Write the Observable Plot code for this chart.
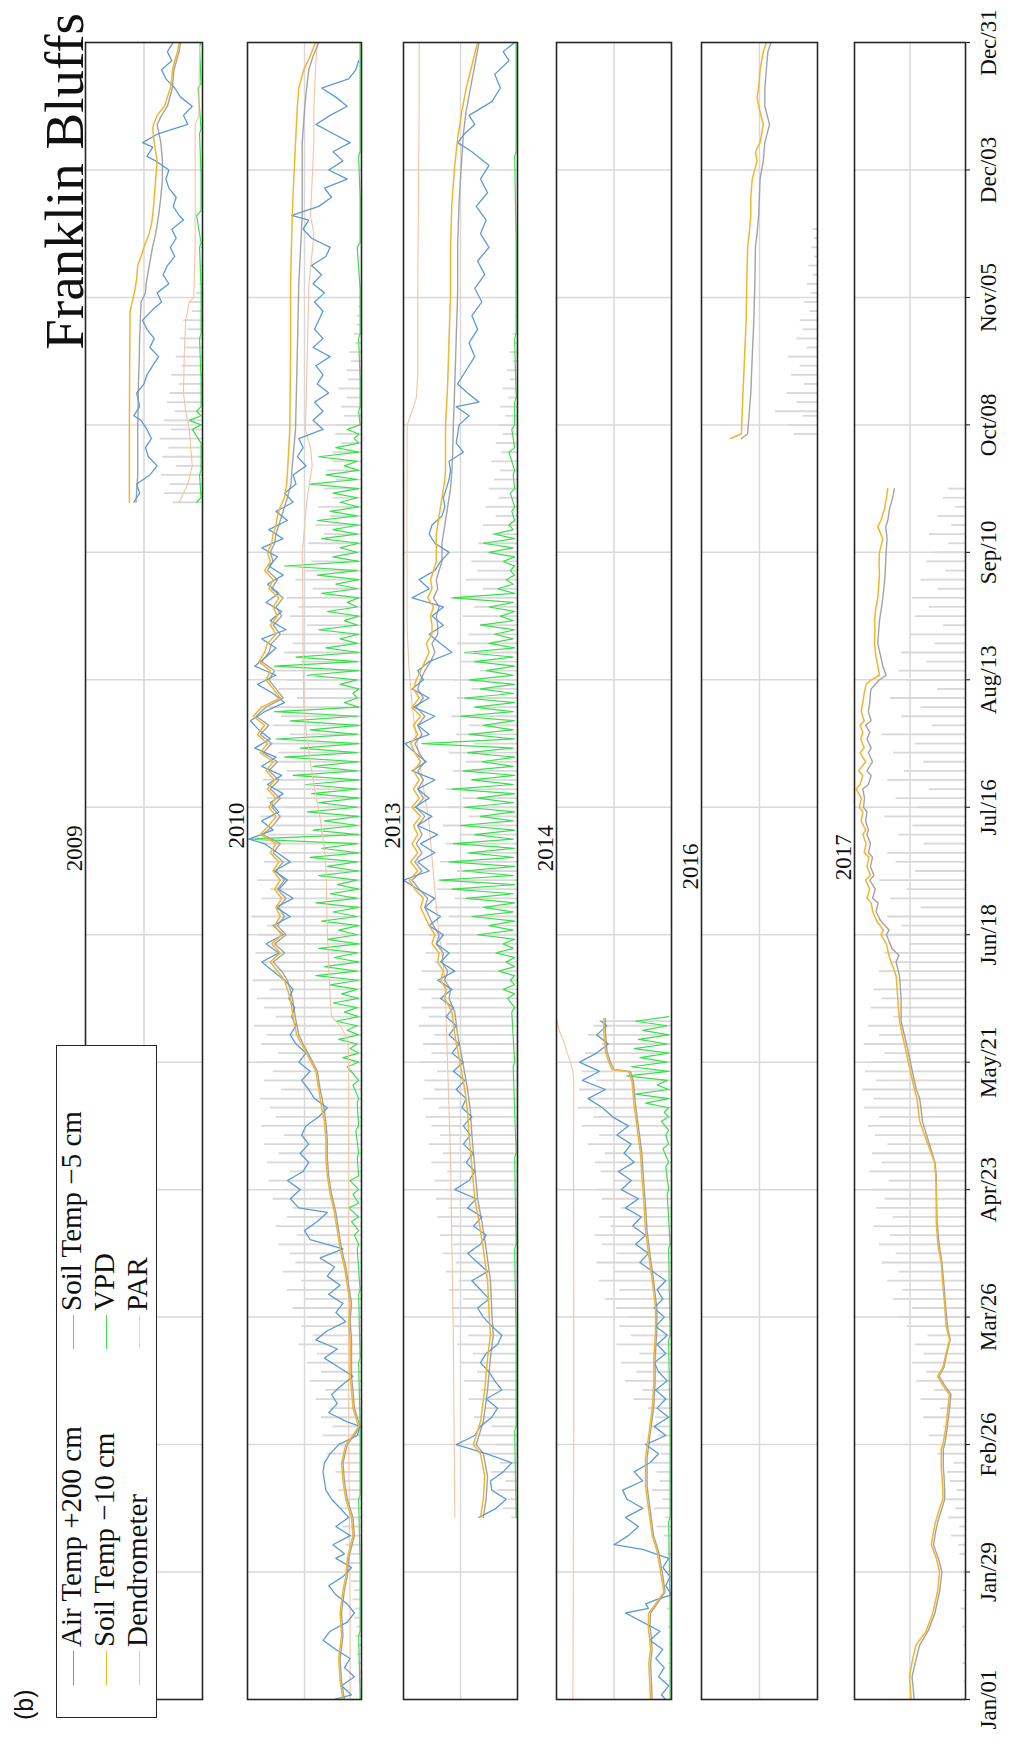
<!DOCTYPE html>
<html><head><meta charset="utf-8">
<script src="https://cdn.jsdelivr.net/npm/d3@7"></script>
<script src="https://cdn.jsdelivr.net/npm/@observablehq/plot@0.6"></script>
<style>
html,body{margin:0;padding:0;background:#fff;overflow:hidden;width:1012px;height:1744px}
#fig{position:absolute;left:0;top:0;width:1744px;height:1012px;transform-origin:0 0;transform:translate(0px,1744px) rotate(-90deg);font-family:"Liberation Serif",serif;color:#111}
#fig svg{position:absolute;left:0}
.lg{position:absolute;font-size:29px;line-height:29px;white-space:nowrap}
.mk{position:absolute;height:0;border-top:1.5px solid}
</style></head><body><div id="fig"></div>
<script>
// ---------- axis ticks ----------
const tickDays = [1,29,57,85,113,141,169,197,225,253,281,309,337,365];
const tickLabels = ["Jan/01","Jan/29","Feb/26","Mar/26","Apr/23","May/21","Jun/18","Jul/16","Aug/13","Sep/10","Oct/08","Nov/05","Dec/03","Dec/31"];
const years = ["2009","2010","2013","2014","2016","2017"];
const seriesNames = ["Air Temp +200 cm","Soil Temp \u221210 cm","Dendrometer","Soil Temp \u22125 cm","VPD","PAR"];

// ---------- 2009 ----------
const air2009 = [[264,7],[266,3],[268,5],[270,-4],[272,-9],[274,-3],[276,-1],[278,-5],[280,-2],[282,2],[283,7],[285,3],[288,5],[290,0],[292,-2],[294,-6],[296,-10],[298,-4],[300,-7],[302,-2],[304,1],[306,-5],[308,-12],[310,-9],[312,-17],[314,-13],[316,-16],[318,-21],[320,-18],[322,-22],[324,-19],[326,-27],[327,-24],[329,-20],[331,-22],[333,-17],[335,-15],[337,-17],[339,-8],[340,-2],[342,-6],[343,1],[345,-10],[347,-30],[349,-27],[351,-33],[353,-25],[355,-21],[357,-15],[359,-12],[361,-19],[363,-16],[365,-20]];
const s10_2009 = [[264,10],[280,10],[295,9.8],[306,9.5],[310,6.6],[313,5],[316,4.3],[318,2],[320,0],[323,-3.5],[325,-5],[327,-6],[331,-7],[335,-8],[339,-9],[341,-8],[343,-7],[346,-6],[347,-6.5],[349,-9],[351,-14],[353,-16],[355,-18],[357,-19],[359,-19.5],[361,-21],[363,-23],[365,-24]];
const s5_2009 = [[264,5.5],[270,4.3],[280,4.3],[290,3.8],[296,3.2],[300,3],[304,2.5],[308,2],[310,-1],[312,-1.5],[316,-3.6],[320,-5.8],[323,-8],[327,-10],[331,-11.5],[335,-12.6],[339,-12.6],[343,-11.5],[347,-9],[349,-12],[351,-16],[355,-19.4],[359,-20.5],[363,-24],[365,-25]];
const den2009 = [[264,-24],[266,-27],[268,-30],[272,-33],[276,-32],[280,-31],[284,-28.5],[288,-27],[296,-27.5],[304,-28.5],[308,-31],[309,-34],[320,-35],[335,-35],[347,-35],[349,-37.5],[365,-38]];
const vpd2009 = [[264,-36,-39],[270,-38,-39],[276,-39,-39],[280,-33,-39],[282,-31,-39],[284,-36,-39],[290,-39,-39],[300,-38,-39],[310,-39,-39],[320,-38,-39],[327,-36,-39],[335,-39,-39],[345,-38,-39],[355,-37,-39],[364,-38,-39]];
const par2009 = [[264,-20],[266,-14],[268,-18],[270,-12],[272,-22],[274,-13],[276,-17],[278,-11],[280,-19],[282,-14],[284,-21],[286,-16],[288,-18],[290,-24],[292,-19],[294,-26],[296,-22],[298,-28],[300,-25],[302,-30],[304,-27],[306,-33],[308,-31],[310,-36],[312,-38],[316,-39],[320,-38]];

// ---------- 2010 ----------
const air2010 = [[1,-21],[2,-33],[4,-26],[6,-35],[8,-28],[10,-32],[12,-22],[14,-13],[16,-18],[18,-30],[20,-35],[22,-30],[24,-22],[26,-17],[28,-27],[30,-33],[32,-22],[33,-28],[35,-20],[37,-32],[39,-22],[41,-31],[43,-25],[45,-19],[47,-15],[49,-14],[51,-13],[53,-14],[55,-18],[57,-24],[59,-37],[61,-39],[62,-30],[64,-17],[66,-23],[68,-19],[70,-26],[72,-34],[74,-24],[76,-14],[78,-23],[80,-8],[82,-16],[84,-29],[86,-22],[88,-27],[90,-17],[92,-25],[94,-16],[96,-21],[98,-11],[100,-27],[102,-4],[104,0],[106,-9],[108,-16],[109,4],[111,10],[113,3],[115,12],[117,1],[119,-3],[121,3],[123,-3],[125,2],[127,-1],[129,-10],[131,-16],[133,-7],[135,-3],[137,2],[139,-4],[141,4],[143,-1],[145,6],[147,10],[149,6],[151,9],[153,7],[155,11],[157,8],[159,14],[161,22],[163,30],[165,18],[167,27],[169,15],[171,22],[173,10],[175,20],[177,8],[179,18],[181,12],[183,21],[185,10],[187,19],[189,28],[190,39],[192,22],[194,30],[196,18],[198,24],[200,15],[202,26],[204,16],[206,30],[208,20],[210,35],[212,24],[214,32],[216,38],[218,28],[220,14],[222,22],[224,33],[226,20],[228,35],[230,27],[232,20],[234,30],[236,13],[238,24],[240,16],[242,27],[244,18],[246,26],[248,15],[250,25],[252,19],[254,30],[256,15],[258,25],[260,12],[262,20],[264,8],[266,14],[268,6],[270,8],[272,-1],[274,5],[276,1],[278,4],[280,-13],[282,-6],[284,-13],[286,-7],[288,-17],[290,-9],[292,-13],[294,-8],[296,-18],[298,-6],[300,-13],[302,-7],[304,-10],[306,-13],[308,-7],[310,-14],[312,-6],[314,-12],[316,-5],[318,-15],[320,-18],[322,-5],[324,1],[326,-3],[327,9],[329,-10],[331,-19],[333,-14],[335,-30],[337,-17],[339,-27],[341,-20],[343,-32],[345,-20],[347,-8],[349,-18],[351,-30],[353,-22],[355,-12],[357,-31],[359,-36],[361,-38]];
const s10_2010 = [[1,-27],[5,-25],[10,-24],[15,-26],[20,-25],[25,-27],[28,-29],[32,-30],[37,-34],[41,-33],[45,-29],[49,-27],[53,-26],[57,-29],[59,-34],[61,-38],[63,-36],[65,-34],[69,-33],[72,-32],[76,-32],[80,-32],[84,-31],[88,-32],[92,-30],[96,-28],[100,-25],[104,-23],[108,-21],[112,-18],[116,-16],[120,-15],[124,-15],[128,-14],[131,-12],[135,-10],[139,-8],[142,-3],[145,2],[147,5.5],[151,8],[155,10],[157,12],[159,14],[161,19],[163,24],[165,17],[167,23],[169,16],[171,21],[173,17],[175,20],[177,16],[179,21],[181,17],[183,22],[185,18],[187,24],[189,20],[191,31],[193,25],[195,20],[197,25],[199,20],[201,26],[203,21],[205,27],[207,22],[209,31],[211,26],[213,33],[215,28],[217,36],[219,30],[221,17],[223,22],[225,27],[227,24],[229,32],[231,28],[233,26],[235,20],[237,24],[239,19],[241,22],[243,18],[245,25],[247,22],[249,28],[251,24],[253,26],[255,23],[257,22],[259,20],[261,19],[263,17],[265,14],[268,12.5],[272,11.7],[280,10.3],[296,9.8],[312,9.8],[327,8.6],[335,7.5],[343,6.3],[351,5],[355,4],[359,0.5],[362,-4],[365,-7.7]];
const s5_2010 = [[1,-28],[5,-26],[10,-25],[15,-27],[20,-26],[25,-28],[28,-30],[32,-31],[37,-35],[41,-34],[45,-30],[49,-28],[53,-27],[57,-30],[59,-35],[61,-39],[63,-37],[65,-35],[69,-34],[72,-33],[76,-33],[80,-33],[84,-32],[88,-33],[92,-31],[96,-29],[100,-26],[104,-24],[108,-22],[112,-19],[116,-17],[120,-16],[124,-16],[128,-15],[131,-13.6],[135,-11],[139,-9],[142,-4.2],[145,1],[147,4],[151,6.5],[155,8.5],[157,10],[159,12],[161,16],[163,22],[165,14],[167,21],[169,13],[171,19],[173,14],[175,18],[177,13],[179,19],[181,14],[183,20],[185,15],[187,22],[189,17],[191,29],[193,22],[195,17],[197,23],[199,17],[201,24],[203,18],[205,25],[207,19],[209,29],[211,23],[213,31],[215,25],[217,34],[219,27],[221,15],[223,20],[225,25],[227,21],[229,30],[231,25],[233,23],[235,17],[237,22],[239,16],[241,20],[243,15],[245,23],[247,19],[249,26],[251,22],[253,24],[255,21],[257,20],[259,18],[261,16],[263,14],[265,12],[268,9.5],[272,8.6],[280,6.3],[296,5.1],[312,4],[327,1.6],[343,1.6],[351,-0.2],[355,-1.5],[359,-3],[362,-6],[365,-10]];
const den2010 = [[1,-32],[20,-32],[40,-31.5],[60,-31],[80,-31],[100,-31],[120,-31],[140,-31],[146,-30.5],[149,-25],[151,-19],[155,-18],[162,-17],[170,-16],[178,-15.5],[186,-14.8],[190,-13],[194,-11.3],[198,-9],[202,-6.6],[206,-4.5],[210,-2.8],[214,-1],[218,0.4],[230,1],[245,1.2],[253,1.6],[257,0.4],[265,-1.9],[272,-5.4],[276,-4.2],[280,-0.7],[296,-1.9],[312,-3.1],[319,-5.4],[323,-6.6],[327,-4.2],[335,-5.4],[343,-6.6],[351,-6.6],[359,-7.7],[365,-8.9]];
const vpd2010 = [[1,-39,-39],[15,-38,-39],[30,-39,-39],[45,-38,-39],[60,-39,-39],[75,-38,-39],[90,-38,-39],[100,-37,-38],[103,-35,-38],[106,-33,-38],[109,-31,-38],[112,-34,-38],[115,-32,-38],[120,-37,-38],[126,-36,-38],[132,-37,-38],[136,-34,-38],[140,-30,-38],[142,-27,-38],[144,-32,-37],[146,-24,-38],[148,-30,-37],[150,-22,-38],[152,-28,-37],[154,-20,-38],[156,-26,-37],[158,-18,-38],[160,-8,-37],[162,-14,-38],[164,-21,-37],[166,-10,-38],[168,-16,-37],[170,-24,-38],[172,-12,-37],[174,-20,-38],[176,-8,-37],[178,-18,-38],[180,-23,-37],[182,-10,-38],[184,-16,-37],[186,-4,-38],[188,-12,-37],[190,39,-38],[192,-6,-37],[194,-14,-38],[196,-2,-37],[198,-10,-38],[200,-5,-37],[202,-1,-38],[204,8,-37],[206,-6,-38],[208,14,-37],[210,3,-38],[212,20,-37],[214,-4,-38],[216,10,-37],[218,21,-38],[220,-28,-37],[222,-34,-38],[224,-25,-37],[226,-2,-38],[228,21,-37],[230,6,-38],[232,-15,-37],[234,-25,-38],[236,-10,-37],[238,-28,-38],[240,-16,-37],[242,-30,-38],[244,-12,-37],[246,-22,-38],[248,-9,-37],[250,14,-38],[252,-20,-37],[254,-25,-38],[256,-12,-37],[258,-20,-38],[260,-9,-37],[262,-18,-38],[264,-25,-37],[266,-20,-38],[268,-4,-37],[270,-15,-38],[272,-28,-37],[274,-10,-38],[276,-22,-38],[278,-35,-38],[280,-30,-39],[284,-38,-39],[290,-39,-39],[300,-38,-39],[310,-39,-39],[320,-37,-39],[330,-39,-39],[340,-38,-39],[350,-39,-39],[364,-39,-39]];
const par2010 = [[1,-39],[3,-39],[5,-38],[7,-39],[9,-38],[11,-37],[13,-38],[15,-36],[17,-37],[19,-35],[21,-36],[23,-34],[25,-35],[27,-33],[29,-34],[31,-31],[33,-33],[35,-29],[37,-32],[39,-27],[41,-30],[43,-26],[45,-29],[47,-24],[49,-28],[51,-22],[53,-26],[55,-16],[57,-24],[59,-13],[61,-20],[63,-12],[65,-18],[67,-8],[69,-15],[71,-4],[73,-12],[75,-2],[77,-9],[79,4],[81,-6],[83,2],[85,-3],[87,8],[89,0],[91,12],[93,2],[95,15],[97,6],[99,10],[101,18],[103,5],[105,20],[107,12],[109,8],[111,22],[113,14],[115,25],[117,10],[119,26],[121,18],[123,28],[125,14],[127,30],[129,20],[131,24],[133,31],[135,16],[137,28],[139,22],[141,33],[143,18],[145,30],[147,26],[149,35],[151,20],[153,28],[155,33],[157,24],[159,36],[161,22],[163,30],[165,34],[167,20],[169,32],[171,26],[173,37],[175,18],[177,30],[179,24],[181,33],[183,22],[185,28],[187,16],[189,30],[191,25],[193,20],[195,31],[197,14],[199,26],[201,22],[203,29],[205,12],[207,24],[209,18],[211,27],[213,10],[215,22],[217,16],[219,25],[221,5],[223,18],[225,12],[227,20],[229,2],[231,14],[233,8],[235,16],[237,-2],[239,10],[241,4],[243,12],[245,-6],[247,6],[249,0],[251,-5],[253,-11],[255,-3],[257,-14],[259,-8],[261,-18],[263,-10],[265,-20],[267,-14],[269,-22],[271,-16],[273,-20],[275,-20],[277,-26],[279,-22],[281,-22],[283,-28],[285,-26],[287,-30],[289,-24],[291,-31],[293,-30],[295,-33],[297,-32],[299,-36],[301,-35],[303,-37],[305,-37],[307,-38],[309,-38],[311,-39]];

// ---------- 2013 ----------
const air2013 = [[41,-13],[43,-25],[45,-32],[47,-22],[49,-21],[51,-30],[53,-36],[55,-18],[57,3],[59,-10],[61,-14],[63,-22],[65,-26],[67,-18],[69,-29],[71,-24],[73,-20],[75,-14],[77,-18],[79,-26],[81,-29],[83,-22],[85,-16],[87,-12],[89,-20],[91,-14],[93,-8],[95,-19],[97,-12],[99,-5],[101,-14],[103,-18],[105,-9],[107,-15],[109,-5],[111,-11],[113,4],[115,-6],[117,-10],[119,-4],[121,-9],[123,-2],[125,-7],[127,-2],[129,-8],[131,-1],[133,-4],[135,3],[137,-3],[139,5],[141,-2],[143,6],[145,1],[147,8],[149,3],[151,10],[153,5],[155,14],[157,6],[159,16],[161,4],[163,14],[165,8],[167,17],[169,12],[171,22],[173,14],[175,25],[177,18],[179,30],[181,40],[183,22],[185,30],[187,18],[189,28],[191,16],[193,30],[195,20],[197,32],[199,22],[201,30],[203,18],[205,34],[207,24],[209,32],[211,39],[213,22],[215,30],[217,18],[219,33],[221,22],[223,34],[225,26],[227,30],[229,22],[231,6],[233,14],[235,22],[237,12],[239,20],[241,12],[243,34],[245,22],[247,29],[249,18],[251,14],[253,8],[255,18],[257,22],[259,20],[261,13],[263,11],[265,12],[267,10],[269,8],[271,7],[273,8],[275,-2],[277,3],[279,2],[281,1],[283,-6],[285,3],[286,-13],[288,-5],[290,2],[293,-4],[296,-10],[299,-6],[302,-12],[305,-8],[308,-15],[311,-10],[314,-17],[317,-12],[320,-20],[323,-14],[326,-18],[329,-11],[332,-19],[335,-14],[338,-20],[341,-8],[343,2],[345,-3],[347,-10],[349,-6],[352,-22],[355,-28],[358,-24],[361,-34],[363,-30],[365,-38]];
const s10_2013 = [[41,-14],[45,-16],[50,-17],[55,-14],[57,-9],[62,-14],[69,-17],[76,-19],[81,-21],[86,-20],[93,-19],[100,-16],[106,-13],[111,-10],[118,-8],[125,-6],[130,-5],[135,-3],[142,1],[147,4],[152,6],[155,11],[157,10],[159,14],[161,12],[163,16],[165,15],[167,20],[169,18],[171,22],[173,25],[175,28],[177,26],[179,32],[181,36],[183,30],[185,35],[187,30],[189,34],[191,30],[193,33],[195,28],[197,34],[199,29],[201,33],[203,29],[205,33],[207,28],[209,32],[211,35],[213,30],[215,33],[217,28],[219,34],[221,29],[223,33],[225,31],[227,28],[229,25],[231,22],[233,24],[235,20],[237,20],[239,21],[241,19],[243,23],[245,20],[247,21],[249,19],[251,17],[253,17],[255,17],[257,17],[259,16],[261,15],[263,14],[265,13],[267,12],[269,11],[271,10.5],[281,10.5],[290,9],[300,8],[310,7],[320,7],[330,6],[338,4],[344,2],[350,-1],[355,-4],[360,-8],[365,-12]];
const s5_2013 = [[41,-16],[45,-18],[50,-19],[55,-16],[57,-11],[62,-16],[69,-19],[76,-21],[81,-23],[86,-22],[93,-21],[100,-18],[106,-15],[111,-12],[118,-10],[125,-8],[130,-7],[135,-5],[142,-1],[147,2],[152,4],[155,8],[157,7],[159,11],[161,9],[163,13],[165,12],[167,17],[169,15],[171,19],[173,22],[175,25],[177,23],[179,29],[181,34],[183,27],[185,32],[187,27],[189,31],[191,27],[193,30],[195,25],[197,31],[199,26],[201,30],[203,26],[205,30],[207,25],[209,29],[211,32],[213,27],[215,30],[217,25],[219,31],[221,26],[223,30],[225,28],[227,25],[229,21],[231,18],[233,20],[235,16],[237,16],[239,17],[241,15],[243,19],[245,16],[247,17],[249,15],[251,13],[253,13],[255,13],[257,12],[259,11],[261,10],[263,9],[265,8],[267,7],[269,6.5],[271,6],[275,5.5],[281,5],[290,4],[300,3],[310,2],[320,2],[330,1],[340,-1],[345,-2],[350,-4],[355,-7],[360,-10],[365,-13]];
const den2013 = [[41,4],[60,4.5],[80,5],[100,6],[120,7],[140,9],[155,10.5],[161,11.7],[165,12.8],[169,15.2],[177,17.5],[186,20],[194,22.2],[203,26.9],[211,30.4],[219,33.9],[228,36.2],[236,37.4],[260,37.6],[281,37.4],[284,34],[287,31],[292,30],[310,30],[330,29.5],[350,29],[365,29]];
const vpd2013 = [[41,-39,-39],[60,-38,-39],[80,-39,-39],[100,-38,-39],[120,-38,-39],[140,-37,-38],[152,-36,-38],[155,-33,-38],[157,-30,-38],[159,-35,-38],[161,-27,-38],[163,-32,-38],[165,-25,-37],[167,-30,-38],[169,-12,-37],[171,-20,-38],[173,-8,-37],[175,-16,-38],[177,-4,-37],[179,6,-38],[181,15,-37],[183,-2,-38],[185,8,-37],[187,-6,-38],[189,5,-37],[191,-10,-38],[193,0,-37],[195,-14,-38],[197,-3,-37],[199,-12,-38],[201,6,-37],[203,-8,-38],[205,-2,-37],[207,-15,-38],[209,-5,-37],[211,27,-38],[213,-6,-37],[215,-16,-38],[217,0,-37],[219,-10,-38],[221,-3,-37],[223,-14,-38],[225,-6,-37],[227,-18,-38],[229,-10,-37],[231,-3,-38],[233,-20,-37],[235,-24,-38],[237,-14,-37],[239,-28,-38],[241,-20,-37],[243,6,-38],[245,-26,-37],[247,-32,-38],[249,-35,-38],[251,-30,-38],[253,-20,-37],[255,-16,-38],[257,-24,-37],[259,-34,-38],[262,-36,-38],[266,-35,-38],[270,-37,-38],[275,-34,-38],[280,-36,-38],[286,-38,-39],[300,-38,-39],[320,-39,-39],[340,-38,-39],[364,-39,-39]];
const par2013 = [[41,-36],[43,-30],[45,-34],[47,-26],[49,-32],[51,-22],[53,-28],[55,-18],[57,-25],[59,-14],[61,-22],[63,-10],[65,-18],[67,-6],[69,-15],[71,-3],[73,-12],[75,0],[77,-9],[79,2],[81,-6],[83,4],[85,-4],[87,6],[89,-2],[91,8],[93,1],[95,10],[97,3],[99,12],[101,5],[103,14],[105,6],[107,16],[109,8],[111,17],[113,10],[115,18],[117,9],[119,20],[121,12],[123,22],[125,14],[127,20],[129,24],[131,15],[133,26],[135,18],[137,25],[139,16],[141,28],[143,20],[145,26],[147,18],[149,29],[151,22],[153,27],[155,20],[157,29],[159,14],[161,27],[163,18],[165,24],[167,10],[169,22],[171,15],[173,8],[175,18],[177,4],[179,16],[181,12],[183,2],[185,14],[187,-4],[189,10],[191,0],[193,12],[195,-6],[197,8],[199,-2],[201,10],[203,-8],[205,5],[207,-4],[209,8],[211,-10],[213,3],[215,-6],[217,6],[219,-12],[221,2],[223,-8],[225,4],[227,-14],[229,0],[231,-10],[233,2],[235,-6],[237,-14],[239,-2],[241,-10],[243,0],[245,-16],[247,-4],[249,-12],[251,-8],[253,-18],[255,-13],[257,-22],[259,-16],[261,-25],[263,-18],[265,-27],[267,-20],[269,-24],[271,-28],[273,-22],[275,-29],[277,-25],[279,-30],[281,-27],[283,-32],[285,-28],[287,-34],[289,-30],[291,-35],[293,-33],[295,-37],[297,-35],[299,-38],[301,-37],[305,-39],[310,-39]];

// ---------- 2014 ----------
const air2014 = [[1,-36],[2,-33],[4,-38],[6,-31],[8,-35],[10,-29],[12,-34],[14,-25],[16,-32],[18,-20],[20,-8],[21,-24],[22,-22],[23,-30],[24,-40],[26,-36],[28,-39],[30,-34],[32,-38],[34,-20],[35,0],[37,-10],[39,-17],[41,-8],[43,-20],[45,-9],[47,-6],[49,-20],[51,-14],[53,-25],[55,-31],[57,-22],[59,-36],[61,-28],[63,-38],[65,-30],[67,-36],[69,-29],[71,-37],[73,-31],[75,-28],[77,-36],[79,-30],[81,-37],[83,-29],[85,-35],[87,-28],[89,-34],[91,-30],[93,-36],[95,-27],[97,-18],[99,-24],[101,-15],[103,-22],[105,-13],[107,-19],[109,-8],[111,-17],[113,-5],[115,-12],[117,-3],[119,-14],[121,-7],[123,-12],[125,-2],[127,-10],[129,1],[131,8],[133,18],[135,6],[137,22],[139,10],[141,24],[143,12],[145,4],[147,12],[149,5],[150,9]];
const s10_2014 = [[1,-25.4],[5,-24.8],[9,-24.2],[12,-25.5],[14.5,-24.7],[17,-23.8],[20,-24.2],[22,-28.9],[24.6,-34.7],[27,-33.5],[29,-32.4],[33.5,-30],[37,-26.6],[42.5,-24.2],[48,-21.9],[54,-21.9],[59,-24.2],[65,-26.6],[70.5,-27.7],[76,-27.7],[82,-28.9],[87,-28.9],[93,-26.6],[98.5,-24.2],[104,-21.9],[110,-20.8],[115,-19.6],[121,-18.4],[126.5,-16.1],[132,-13.8],[136.6,-12.6],[138.9,-10.3],[139.4,1.3],[141,3.6],[143.3,5.9],[147.8,7.1],[150.6,7.1]];
const s5_2014 = [[1,-26.5],[5,-26],[9,-25.5],[12,-26.5],[14.5,-26],[17,-25],[20,-25.5],[22,-30],[24.6,-35.5],[27,-34.5],[29,-33.5],[33.5,-31],[37,-27.5],[42.5,-25.2],[48,-23],[54,-23],[59,-25],[65,-27.6],[70.5,-28.6],[76,-28.6],[82,-29.8],[87,-29.8],[93,-27.5],[98.5,-25.2],[104,-23],[110,-21.8],[115,-20.6],[121,-19.4],[126.5,-17.1],[132,-14.8],[136.6,-13.6],[138.9,-11.5],[139.4,0],[141,2.5],[143.3,4.8],[147.8,6],[150.6,6]];
const den2014 = [[1,28.6],[30,28.3],[60,28],[90,28],[120,28.2],[136,28],[139,28.5],[141,30.3],[143,32.5],[145.6,35],[147.8,38],[150.6,40]];
const vpd2014 = [[1,-39,-39],[20,-39,-39],[40,-38,-39],[60,-39,-39],[80,-38,-39],[100,-38,-39],[112,-37,-38],[118,-36,-38],[122,-34,-38],[125,-36,-38],[128,-33,-38],[130,-35,-38],[132,-22,-38],[134,-15,-38],[136,-30,-37],[138,-9,-38],[140,-12,-37],[142,-18,-38],[144,-14,-37],[146,-17,-38],[148,-20,-37],[150,-15,-38]];
const par2014 = [[1,-39],[5,-39],[9,-38],[13,-39],[17,-38],[21,-37],[25,-38],[29,-36],[33,-37],[37,-35],[39,-30],[41,-36],[43,-28],[45,-34],[47,-27],[49,-32],[51,-30],[53,-26],[55,-33],[57,-28],[59,-31],[61,-26],[63,-29],[65,-24],[67,-14],[69,-20],[71,-8],[73,-16],[75,-5],[77,-18],[79,-2],[81,-12],[83,-4],[85,-10],[87,-2],[89,6],[91,-4],[93,10],[95,0],[97,12],[99,-2],[101,8],[103,13],[105,2],[107,10],[109,-5],[111,8],[113,12],[115,0],[117,9],[119,13],[121,6],[123,18],[125,10],[127,22],[129,14],[131,25],[133,18],[135,24],[137,12],[139,22],[141,16],[143,20],[145,8],[147,18],[149,14],[150,10]];

// ---------- 2016 ----------
const s10_2016 = [[278,20],[279,12.5],[288,11.4],[296,10.3],[304,9.2],[312,8.8],[320,8.2],[323,7.1],[327,6],[331,6],[335,5],[339,1.7],[341,2.8],[343,-0.4],[347,-2.6],[351,0.6],[353,1.7],[355,0.6],[359,-0.4],[363,-2.6],[365,-4.7]];
const s5_2016 = [[278,12.5],[279,8.2],[288,6],[296,5],[304,3.9],[312,3.2],[320,2.8],[323,1.7],[327,0.6],[335,-0.4],[339,-2.6],[343,-3.7],[347,-6.9],[351,-3.7],[355,-3.7],[359,-4.7],[363,-5.8],[365,-8]];
const par2016 = [[279,-24],[281,-20],[283,-30],[284,-11],[286,-26],[288,-19],[290,-31],[292,-22],[294,-28],[296,-20],[298,-33],[300,-26],[302,-30],[304,-28],[306,-35],[308,-31],[310,-36],[312,-33],[314,-37],[316,-34],[318,-38],[320,-36],[322,-38],[324,-37]];

// ---------- 2017 ----------
const s10_2017 = [[1,-0.8],[6,0.4],[10,-2],[13,-4.4],[16,-11.6],[20,-16.5],[25,-20],[29,-21.3],[32,-19],[34,-16.5],[35,-15.3],[38,-17],[40,-18.4],[43,-21.3],[45,-23.7],[47,-23.7],[50,-23],[52,-22.5],[56,-22.5],[57,-23.7],[61,-26],[65,-27.3],[68,-28.5],[70,-23.7],[72,-20],[74,-23.7],[77,-26],[80,-28.5],[83,-26],[88,-24.9],[92,-23.7],[97,-22.5],[101,-20],[106,-18.9],[113,-18.9],[116,-18.5],[119,-17.7],[124,-11.6],[128,-7],[133,-5],[135,-3.2],[140,0.4],[145,4],[150,7.6],[155,8.8],[160,10],[164,14.8],[167,17],[169,21],[170,19],[172,24],[174,26.8],[176,28],[177,31],[179,29],[181,32],[182,28.5],[184,31],[186,29.5],[187,33],[189,31.6],[191,34],[192,32],[194,35.2],[196,34],[197,36.5],[199,35],[201,38.8],[202,36],[204,34],[205,37],[207,32],[209,36],[210,33],[212,35.5],[213.5,34],[215,36],[216,33],[218,35.2],[220,34],[222,33],[224,31.6],[225,28],[226,22],[228,23.2],[230,24.5],[233,25.6],[236,25.3],[238,25.6],[241,24.5],[243,23.2],[246,22.5],[248,22],[251,22.3],[253,22],[256,19.6],[258.6,23.2],[260,21],[262.5,18.4],[265,17],[267,16]];
const s5_2017 = [[1,-3],[6,-1.5],[10,-4.5],[13,-7],[16,-13],[20,-18],[25,-21.5],[29,-23],[32,-20.5],[34,-18],[35,-17],[38,-18.5],[40,-20],[43,-23],[45,-25],[47,-25],[50,-24.5],[52,-24],[56,-24],[57,-25],[61,-27],[65,-28.5],[68,-29.5],[70,-25],[72,-21],[74,-24.5],[77,-26.5],[80,-29],[83,-27],[88,-25.5],[92,-24.5],[97,-23],[101,-21],[106,-19.5],[113,-19],[116,-19],[119,-18],[124,-13],[128,-9],[133,-7],[135,-4.5],[140,-1],[145,2.5],[150,6.4],[155,6.4],[160,7.6],[163,10],[164.5,8],[166,13],[169,17],[170,15],[172,21],[174,24.4],[176,23],[177,27],[179,25],[181,29],[182,26],[184,28.5],[186,27],[187,30],[189,28.5],[191,31],[192,30],[194,32],[196,31],[197,33.5],[199,32.8],[201,34],[202,30],[204,28],[205,31],[207,27],[209,30],[210,28],[212,31],[213.5,29],[215,32],[216,28],[218,30],[220,29],[222,28.5],[223,28],[225,22],[226,17.2],[228,19.6],[230,21],[233,23.2],[236,22.5],[238,22],[241,20.5],[243,19.6],[246,18.5],[248,18],[251,17.5],[253,17.2],[256,16.5],[258.6,17.5],[260,16],[262.5,14.8],[265,12.5],[267,11.2]];
const par2017 = [[1,-39],[5,-39],[9,-38],[13,-39],[17,-38],[21,-37],[25,-38],[29,-37],[33,-36],[35,-35],[37,-30],[39,-36],[41,-28],[43,-33],[45,-26],[47,-34],[49,-29],[51,-27],[53,-32],[55,-20],[57,-28],[59,-14],[61,-24],[63,-10],[65,-22],[67,-8],[69,-18],[71,-5],[73,-12],[75,-2],[77,-10],[79,-4],[81,-13],[83,2],[85,8],[87,-2],[89,12],[91,5],[93,16],[95,8],[97,20],[99,10],[101,22],[103,14],[105,26],[107,12],[109,24],[111,18],[113,27],[115,15],[117,29],[119,20],[121,27],[123,16],[125,25],[127,30],[129,22],[131,33],[133,26],[135,34],[137,24],[139,32],[141,28],[143,18],[145,33],[147,22],[149,30],[151,12],[153,28],[155,20],[157,26],[159,8],[161,22],[163,14],[165,18],[167,0],[169,20],[171,6],[173,16],[175,-8],[177,14],[179,2],[181,22],[183,-4],[185,10],[187,16],[189,-10],[191,8],[193,-2],[195,18],[197,-6],[199,10],[201,-14],[203,16],[205,4],[207,-10],[209,12],[211,-4],[213,20],[215,-16],[217,6],[219,-8],[221,14],[223,-20],[225,2],[227,8],[229,-12],[231,6],[233,-18],[235,0],[237,-24],[239,-4],[241,-14],[243,-2],[245,-20],[247,-8],[249,-26],[251,-12],[253,-18],[255,-28],[257,-14],[259,-30],[261,-20],[263,-33],[265,-24],[267,-28]];

// ---------- layout & style ----------
const panelSpan = [[85,202],[247,361],[403,517],[556,671],[701,817],[854,965]]; // y position of each panel (px)
const yearDay = [188,193,193,188,184,186];
const COL = {air:"#5b9bd5", s10:"#f2b52e", s5:"#a3a3a3", vpd:"#38e04a", den:"#f6c3a3", par:"#d8d8d8"};

const panels = [
  {air:air2009, s10:s10_2009, s5:s5_2009, den:den2009, vpd:vpd2009, par:par2009},
  {air:air2010, s10:s10_2010, s5:s5_2010, den:den2010, vpd:vpd2010, par:par2010},
  {air:air2013, s10:s10_2013, s5:s5_2013, den:den2013, vpd:vpd2013, par:par2013},
  {air:air2014, s10:s10_2014, s5:s5_2014, den:den2014, vpd:vpd2014, par:par2014},
  {s10:s10_2016, s5:s5_2016, par:par2016},
  {s10:s10_2017, s5:s5_2017, par:par2017}
];

const fig = document.getElementById("fig");
const XY = {x: d => d[0], y: d => d[1]};

panels.forEach((s, i) => {
  const [top, bot] = panelSpan[i];
  const last = i === panels.length - 1;
  const mt = 34, mb = last ? 48 : 4;
  const marks = [
    Plot.ruleX(tickDays.slice(1, -1), {stroke: "#d9d9d9", strokeWidth: 1.5}),
    Plot.ruleY([0], {stroke: "#d9d9d9", strokeWidth: 1.5})
  ];
  if (s.par) marks.push(Plot.ruleX(s.par, {x: d => d[0], y1: -40, y2: d => d[1], stroke: COL.par, strokeWidth: 1.8, clip: true}));
  if (s.vpd) marks.push(Plot.line(s.vpd.flatMap(d => [[d[0], d[1]], [d[0] + 1, d[2]]]), {...XY, stroke: COL.vpd, strokeWidth: 1.2, clip: true}));
  if (s.den) marks.push(Plot.line(s.den, {...XY, stroke: COL.den, strokeWidth: 1.1, clip: true}));
  if (s.s5) marks.push(Plot.line(s.s5, {...XY, stroke: COL.s5, strokeWidth: 1.4, clip: true}));
  if (s.air) marks.push(Plot.line(s.air, {...XY, stroke: COL.air, strokeWidth: 1.3, clip: true}));
  if (s.s10) marks.push(Plot.line(s.s10, {...XY, stroke: COL.s10, strokeWidth: 1.5, clip: true}));
  marks.push(Plot.frame({stroke: "#262626", strokeWidth: 1.6}));
  marks.push(Plot.text([years[i]], {x: yearDay[i], y: 40, text: d => d, dy: -4, lineAnchor: "bottom", fontSize: 23, fill: "#111"}));

  const chart = Plot.plot({
    width: 1744,
    height: (bot - top) + mt + mb,
    marginLeft: 44, marginRight: 43, marginTop: mt, marginBottom: mb,
    x: last
      ? {domain: [1, 365], ticks: tickDays, tickFormat: d => tickLabels[tickDays.indexOf(d)], tickSize: 5, tickPadding: 9, label: null}
      : {domain: [1, 365], axis: null},
    y: {domain: [-40, 40], axis: null},
    style: {fontFamily: "Liberation Serif", fontSize: "23px", background: "transparent", color: "#111", overflow: "visible", maxWidth: "none"},
    marks
  });
  chart.style.top = (top - mt) + "px";
  fig.appendChild(chart);
});

// ---------- legend ----------
const legend = document.createElement("div");
legend.style.cssText = "position:absolute;left:26px;top:56px;width:673px;height:101px;border:1.6px solid #262626;background:#fff;box-sizing:border-box";
fig.appendChild(legend);
const legCols = [COL.air, COL.s10, COL.den, COL.s5, COL.vpd, COL.par];
seriesNames.forEach((name, k) => {
  const col = Math.floor(k / 3), row = k % 3;
  const cy = 16 + row * 33;
  const mx = col === 0 ? 32 : 368;
  const mk = document.createElement("div");
  mk.className = "mk";
  mk.style.cssText += `left:${mx}px;top:${cy}px;width:34px;border-top-color:${legCols[k]}`;
  legend.appendChild(mk);
  const t = document.createElement("div");
  t.className = "lg";
  t.textContent = name;
  t.style.left = (mx + 38) + "px";
  t.style.top = (cy - 16) + "px";
  legend.appendChild(t);
});

// ---------- title & tag ----------
const title = document.createElement("div");
title.textContent = "Franklin Bluffs";
title.style.cssText = "position:absolute;right:13px;top:37px;font-size:55px;line-height:55px;white-space:nowrap";
fig.appendChild(title);
const tag = document.createElement("div");
tag.textContent = "(b)";
tag.style.cssText = "position:absolute;left:24px;top:10px;font-family:'Liberation Sans',sans-serif;font-size:25px;line-height:28px";
fig.appendChild(tag);
</script>
</body></html>
